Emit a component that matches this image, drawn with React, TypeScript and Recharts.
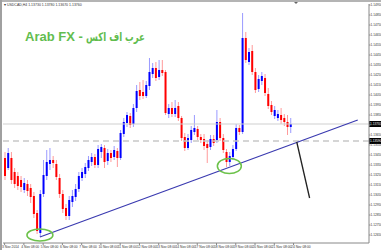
import { ComposedChart, Bar, XAxis, YAxis, ReferenceLine, ReferenceDot } from 'recharts';

// USDCAD H4 candles
const opens = [
  1.1342, 1.1332, 1.1342, 1.1328, 1.1324, 1.1320, 1.1310, 1.1316, 1.1312, 1.1304,
  1.1287, 1.1267, 1.1306, 1.1324, 1.1336, 1.1340, 1.1336, 1.1322, 1.1306, 1.1292,
  1.1284, 1.1298, 1.1303, 1.1311, 1.1322, 1.1326, 1.1332, 1.1338, 1.1343, 1.1335,
  1.1348, 1.1352, 1.1339, 1.1347, 1.1343, 1.1349, 1.1342, 1.1366, 1.1377, 1.1384,
  1.1376, 1.1392, 1.1410, 1.1408, 1.1404, 1.1414, 1.1426, 1.1432, 1.1423, 1.1430,
  1.1428, 1.1386, 1.1392, 1.1386, 1.1394, 1.1382, 1.1363, 1.1352, 1.1360, 1.1368,
  1.1371, 1.1363, 1.1361, 1.1356, 1.1353, 1.1361, 1.1360, 1.1378, 1.1362, 1.1348,
  1.1338, 1.1343, 1.1351, 1.1372, 1.1368, 1.1462, 1.1438, 1.1449, 1.1428, 1.1411,
  1.1419, 1.1422, 1.1406, 1.1395, 1.1384, 1.1382, 1.1385, 1.1382, 1.1378, 1.1373,
];
const closes = [
  1.1324, 1.1347, 1.1320, 1.1316, 1.1314, 1.1313, 1.1317, 1.1309, 1.1303, 1.1286,
  1.1269, 1.1306, 1.1325, 1.1338, 1.1340, 1.1337, 1.1323, 1.1306, 1.1291, 1.1284,
  1.1300, 1.1304, 1.1311, 1.1324, 1.1328, 1.1333, 1.1340, 1.1343, 1.1335, 1.1351,
  1.1353, 1.1338, 1.1347, 1.1342, 1.1350, 1.1342, 1.1367, 1.1378, 1.1385, 1.1375,
  1.1392, 1.1409, 1.1404, 1.1404, 1.1415, 1.1428, 1.1432, 1.1422, 1.1430, 1.1427,
  1.1387, 1.1392, 1.1386, 1.1392, 1.1382, 1.1362, 1.1352, 1.1362, 1.1370, 1.1372,
  1.1363, 1.1360, 1.1354, 1.1352, 1.1361, 1.1357, 1.1378, 1.1362, 1.1350, 1.1338,
  1.1344, 1.1351, 1.1372, 1.1368, 1.1462, 1.1440, 1.1448, 1.1428, 1.1410, 1.1421,
  1.1424, 1.1407, 1.1394, 1.1388, 1.1390, 1.1386, 1.1380, 1.1378, 1.1373, 1.1376,
];
const highs = [
  1.1348, 1.1352, 1.1348, 1.1332, 1.1328, 1.1324, 1.1322, 1.1320, 1.1316, 1.1308,
  1.1290, 1.1310, 1.1340, 1.1350, 1.1352, 1.1344, 1.1340, 1.1326, 1.1310, 1.1296,
  1.1304, 1.1310, 1.1316, 1.1328, 1.1332, 1.1337, 1.1344, 1.1347, 1.1346, 1.1355,
  1.1356, 1.1355, 1.1351, 1.1350, 1.1354, 1.1352, 1.1370, 1.1382, 1.1388, 1.1387,
  1.1396, 1.1415, 1.1418, 1.1420, 1.1419, 1.1442, 1.1437, 1.1438, 1.1440, 1.1440,
  1.1430, 1.1396, 1.1398, 1.1400, 1.1398, 1.1384, 1.1367, 1.1366, 1.1374, 1.1385,
  1.1374, 1.1366, 1.1366, 1.1360, 1.1365, 1.1365, 1.1390, 1.1382, 1.1366, 1.1351,
  1.1348, 1.1355, 1.1376, 1.1375, 1.1487, 1.1468, 1.1452, 1.1455, 1.1432, 1.1425,
  1.1428, 1.1426, 1.1412, 1.1399, 1.1394, 1.1390, 1.1392, 1.1386, 1.1385, 1.1382,
];
const lows = [
  1.1320, 1.1330, 1.1316, 1.1312, 1.1310, 1.1308, 1.1307, 1.1304, 1.1297, 1.1282,
  1.1266, 1.1263, 1.1303, 1.1320, 1.1330, 1.1332, 1.1320, 1.1302, 1.1287, 1.1280,
  1.1280, 1.1293, 1.1299, 1.1308, 1.1319, 1.1322, 1.1329, 1.1334, 1.1332, 1.1332,
  1.1342, 1.1332, 1.1335, 1.1338, 1.1340, 1.1333, 1.1340, 1.1363, 1.1373, 1.1372,
  1.1373, 1.1388, 1.1400, 1.1401, 1.1402, 1.1410, 1.1422, 1.1419, 1.1420, 1.1424,
  1.1385, 1.1382, 1.1383, 1.1383, 1.1379, 1.1359, 1.1349, 1.1350, 1.1357, 1.1365,
  1.1360, 1.1357, 1.1350, 1.1337, 1.1350, 1.1354, 1.1357, 1.1359, 1.1347, 1.1333,
  1.1334, 1.1340, 1.1349, 1.1365, 1.1366, 1.1437, 1.1435, 1.1425, 1.1407, 1.1408,
  1.1415, 1.1404, 1.1391, 1.1385, 1.1381, 1.1379, 1.1376, 1.1374, 1.1365, 1.1367,
];

const timeLabels = [
  '3 Nov 2014', '4 Nov 08:00', '5 Nov 08:00', '6 Nov 08:00', '7 Nov 08:00', '10 Nov 08:00',
  '11 Nov 08:00', '12 Nov 08:00', '13 Nov 08:00', '14 Nov 08:00', '17 Nov 08:00', '18 Nov 08:00',
  '19 Nov 08:00', '20 Nov 08:00', '21 Nov 08:00', '24 Nov 08:00',
];
const timeTicks = [0, 6, 12, 18, 24, 30, 36, 42, 48, 54, 60, 66, 72, 78, 84, 90];

const priceTicks = [
  1.1495, 1.1485, 1.1475, 1.1465, 1.1455, 1.1445, 1.1435, 1.1425, 1.1415, 1.1405, 1.1395, 1.1385,
  1.1375, 1.1365, 1.1355, 1.1345, 1.1335, 1.1325, 1.1315, 1.1305, 1.1295, 1.1285, 1.1275, 1.1265,
];

const bidPrice = 1.1376;
const levelPrice = 1.1359;
const trendFrom = { x: 11, y: 1.1263 };
const trendTo = { x: 110, y: 1.138 };
const arrowFrom = { x: 91, y: 1.1358 };
const arrowTo = { x: 95, y: 1.1302 };
const touchLow = { x: 11, y: 1.1265 };
const touchRetest = { x: 70, y: 1.1334 };

const SLOTS = 114; // bars plus the empty shift on the right

const data = Array.from({ length: SLOTS }, (_, i) =>
  i < opens.length
    ? { i, range: [lows[i], highs[i]], open: opens[i], close: closes[i], high: highs[i], low: lows[i] }
    : { i }
);

const Candle = (props: any) => {
  const { x, y, width, height, payload } = props;
  if (!payload || payload.open == null || height == null) return <g />;
  const { open, close, high, low } = payload;
  const top = Math.min(y, y + height);
  const h = Math.abs(height);
  const toY = (p: number) => top + ((high - p) / (high - low)) * h;
  const color = close >= open ? '#0000ff' : '#ff0000';
  const cx = x + width / 2;
  const bTop = toY(Math.max(open, close));
  const bBot = toY(Math.min(open, close));
  return (
    <g>
      <line x1={cx} x2={cx} y1={top} y2={top + h} stroke={color} strokeOpacity={0.4} strokeWidth={1} />
      <rect x={cx - 1} y={bTop} width={2} height={Math.max(1, bBot - bTop)} fill={color} />
    </g>
  );
};

const TimeTick = (props: any) => {
  const { x, y, payload } = props;
  const idx = timeTicks.indexOf(payload.value);
  return (
    <text x={x - 2.5} y={y + 2.5} fontSize={3.3} fill="#333" textAnchor="start" fontFamily="Liberation Sans, Arial">
      {timeLabels[idx]}
    </text>
  );
};

const PriceTick = (props: any) => {
  const { x, y, payload } = props;
  return (
    <text x={x} y={y + 1.2} fontSize={3.2} fill="#333" textAnchor="start" fontFamily="Liberation Sans, Arial">
      {payload.value.toFixed(5)}
    </text>
  );
};

const PriceTag = (props: any) => {
  const { viewBox, value } = props;
  const x = viewBox.x + viewBox.width;
  return (
    <g>
      <rect x={x} y={viewBox.y - 3} width={12} height={6} fill="#000" />
      <text x={x + 1} y={viewBox.y + 1.2} fontSize={3.2} fill="#fff" fontFamily="Liberation Sans, Arial">
        {value.toFixed(5)}
      </text>
    </g>
  );
};

const Ring = (rx: number, ry: number) => (p: any) => (
  <ellipse cx={p.cx} cy={p.cy} rx={rx} ry={ry} fill="none" stroke="#6cc24a" strokeWidth={1.5} />
);

export default function App() {
  return (
    <div style={{ position: 'absolute', left: 0, top: 0, width: 381, height: 250, background: '#fff', overflow: 'hidden' }}>
      <ComposedChart width={381} height={250} data={data} margin={{ top: 4, left: 3, right: 0, bottom: 0 }}>
        <XAxis
          dataKey="i"
          ticks={timeTicks}
          interval={0}
          tick={<TimeTick />}
          tickSize={2}
          tickMargin={0}
          height={7}
          axisLine={{ stroke: '#888' }}
          tickLine={{ stroke: '#888' }}
        />
        <YAxis
          orientation="right"
          domain={[1.1257, 1.1496]}
          allowDataOverflow
          ticks={priceTicks}
          interval={0}
          tick={<PriceTick />}
          tickSize={1.5}
          tickMargin={0}
          width={12}
          axisLine={{ stroke: '#888' }}
          tickLine={{ stroke: '#888' }}
        />
        <ReferenceLine y={bidPrice} stroke="#cfcfcf" strokeWidth={1} label={<PriceTag value={bidPrice} />} />
        <ReferenceLine
          y={levelPrice}
          stroke="#c8c8c8"
          strokeWidth={1.5}
          strokeDasharray="6 4"
          label={<PriceTag value={levelPrice} />}
        />
        <Bar dataKey="range" shape={<Candle />} barSize={2} isAnimationActive={false} />
        <ReferenceLine segment={[trendFrom, trendTo]} stroke="#3a3ab0" strokeWidth={1.2} />
        <ReferenceLine segment={[arrowFrom, arrowTo]} stroke="#222" strokeWidth={1.3} />
        <ReferenceDot x={touchLow.x} y={touchLow.y} r={6} shape={Ring(13, 6)} />
        <ReferenceDot x={touchRetest.x} y={touchRetest.y} r={6} shape={Ring(12, 7.5)} />
      </ComposedChart>

      {/* window frame */}
      <div style={{ position: 'absolute', left: 0, top: 0, width: 381, height: 2, background: '#b4b4b4' }} />
      <div style={{ position: 'absolute', left: 0, top: 0, width: 2, height: 250, background: '#a0a0a0' }} />

      <svg width={381} height={60} style={{ position: 'absolute', left: 0, top: 0 }}>
        <text x={4} y={6} fontSize={3.5} fill="#333" fontFamily="Liberation Sans, Arial">
          ▾ USDCAD,H4  1.13730 1.13780 1.13670 1.13760
        </text>
        <polygon points="294,2 298,2 296,4" fill="#666" />
        <text x={25} y={41} fontSize={13} fontWeight="bold" fill="#62bd4f" fontFamily="Liberation Sans, Arial">
          Arab FX -
        </text>
        <text
          x={86}
          y={41}
          fontSize={12}
          fontWeight="bold"
          fill="#62bd4f"
          fontFamily="DejaVu Sans, sans-serif"
          textLength={59}
          lengthAdjust="spacingAndGlyphs"
        >
          عرب اف اكس
        </text>
      </svg>
    </div>
  );
}
